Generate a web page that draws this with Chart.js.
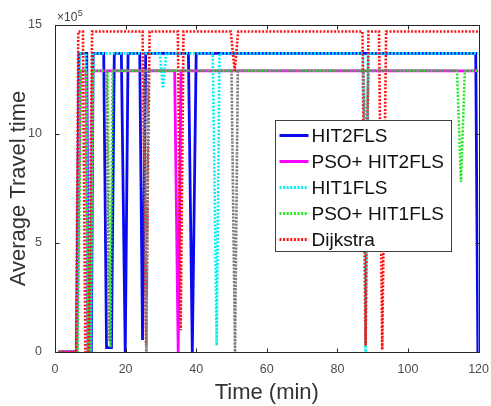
<!DOCTYPE html>
<html><head><meta charset="utf-8">
<script src="https://cdn.jsdelivr.net/npm/chart.js@4.4.0/dist/chart.umd.min.js"></script>
<style>html,body{margin:0;padding:0;background:#fff;}#wrap{width:491px;height:406px;position:relative;}</style>
</head><body><div id="wrap"><canvas id="c" width="491" height="406"></canvas></div>
<script>
// axis ticks (y in units of 10^5)
const xTicks = [0, 20, 40, 60, 80, 100, 120];
const yTicks = [0, 5, 10, 15];
const seriesNames = ['HIT2FLS', 'PSO+ HIT2FLS', 'HIT1FLS', 'PSO+ HIT1FLS', 'Dijkstra'];

// HIT2FLS (blue solid)
const hit2flsTime  = [1, 6.1, 6.8, 9.0, 9.4, 10.3, 10.8, 13.8, 14.6, 16.0, 16.8, 18.8, 19.9, 20.7, 24.0, 24.8, 25.7, 37.8, 38.9, 40.0, 119.2, 119.8];
const hit2flsValue = [0, 0, 13.7, 13.7, 0, 0, 13.7, 13.7, 0.2, 0.2, 13.7, 13.7, 0, 13.7, 13.7, 0.55, 13.7, 13.7, 0, 13.7, 13.7, 0];
// PSO+ HIT2FLS (magenta solid)
const psoHit2Time  = [1, 6.2, 7.2, 8.8, 9.4, 10.0, 10.6, 33.9, 34.9, 35.7, 120];
const psoHit2Value = [0, 0, 12.9, 12.9, 0, 0, 12.9, 12.9, 0, 12.9, 12.9];
// HIT1FLS (cyan dotted)
const hit1flsTime  = [1, 6.2, 7.0, 8.8, 9.4, 10.2, 10.8, 29.7, 30.6, 31.5, 44.7, 45.8, 46.6, 87.3, 88.0, 88.7, 120];
const hit1flsValue = [0, 0, 13.7, 13.7, 0, 0, 13.7, 13.7, 12.1, 13.7, 13.7, 0.3, 13.7, 13.7, 0, 13.7, 13.7];
// PSO+ HIT1FLS (green dotted)
const psoHit1Time  = [1, 6.4, 7.4, 8.8, 9.4, 10.0, 10.7, 14.9, 15.7, 16.3, 113.9, 115.0, 116.1, 120];
const psoHit1Value = [0, 0, 12.9, 12.9, 0, 0, 12.9, 12.9, 0.2, 12.9, 12.9, 7.8, 12.9, 12.9];
// Dijkstra (red dotted)
const dijkstraTime  = [1, 6.0, 6.6, 7.9, 8.6, 9.5, 10.5, 24.8, 25.8, 26.8, 34.8, 35.6, 36.4, 49.8, 50.9, 51.9, 87.1, 88.0, 88.8, 91.8, 92.7, 93.8, 120];
const dijkstraValue = [0, 0, 14.7, 14.7, 0, 0, 14.7, 14.7, 0.3, 14.7, 14.7, 1.0, 14.7, 14.7, 12.9, 14.7, 14.7, 0.3, 14.7, 14.7, 0.1, 14.7, 14.7];
// overlapping PSO traces (appear grey in the figure; not in legend)
const overlapTime  = [14.6, 15.3, 15.8, 16.4, 25.3, 25.9, 26.4, 50.0, 51.0, 51.8, 87.4, 88.1, 88.8, 113.8];
const overlapValue = [12.9, 0.5, null, 12.9, 12.9, 0, 12.9, 12.9, 0, 12.9, 12.9, 8.0, 12.9, 12.9];

const pts = (xs, ys) => xs.map((x, i) => ({x: x, y: ys[i]}));
const DOT = [2, 1.6];

const datasets = [
  {label: seriesNames[0], data: pts(hit2flsTime, hit2flsValue), borderColor: '#0a0af0', borderWidth: 2.8, order: 6, legend: true},
  {label: seriesNames[1], data: pts(psoHit2Time, psoHit2Value), borderColor: '#ff00ff', borderWidth: 2.8, order: 5, legend: true},
  {label: seriesNames[2], data: pts(hit1flsTime, hit1flsValue), borderColor: '#00f0f0', borderWidth: 2.6, borderDash: DOT, order: 4, legend: true},
  {label: seriesNames[3], data: pts(psoHit1Time, psoHit1Value), borderColor: '#22ee22', borderWidth: 2.6, borderDash: DOT, order: 3, legend: true},
  {label: seriesNames[4], data: pts(dijkstraTime, dijkstraValue), borderColor: '#ff1010', borderWidth: 2.6, borderDash: DOT, order: 2, legend: true},
  {label: 'overlap', data: pts(overlapTime, overlapValue), borderColor: '#7d7d7d', borderWidth: 2.6, borderDash: [2.2, 1.2], order: 1, legend: false}
].map(d => Object.assign({pointRadius: 0, tension: 0, fill: false, spanGaps: false}, d));

const FONT = '"Liberation Sans", Arial, Helvetica, sans-serif';

const decor = {
  id: 'decor',
  afterDatasetsDraw(chart) {
    const {ctx, chartArea: a, scales: {x, y}} = chart;
    ctx.save();
    ctx.strokeStyle = '#262626';
    ctx.lineWidth = 1;
    ctx.setLineDash([]);
    const l = Math.round(a.left) + 0.5, r = Math.round(a.right) + 0.5, t = Math.round(a.top) + 0.5, b = Math.round(a.bottom) + 0.5;
    ctx.strokeRect(l, t, r - l, b - t);
    ctx.beginPath();
    const L = 4;
    xTicks.forEach(v => { const px = Math.round(x.getPixelForValue(v)) + 0.5; ctx.moveTo(px, b); ctx.lineTo(px, b - L); ctx.moveTo(px, t); ctx.lineTo(px, t + L); });
    yTicks.forEach(v => { const py = Math.round(y.getPixelForValue(v)) + 0.5; ctx.moveTo(l, py); ctx.lineTo(l + L, py); ctx.moveTo(r, py); ctx.lineTo(r - L, py); });
    ctx.stroke();
    ctx.fillStyle = '#404040';
    ctx.textBaseline = 'alphabetic';
    ctx.textAlign = 'left';
    ctx.font = '12px ' + FONT;
    ctx.fillText('\u00d710', a.left + 2, a.top - 4);
    const w = ctx.measureText('\u00d710').width;
    ctx.font = '9px ' + FONT;
    ctx.fillText('5', a.left + 2 + w + 0.5, a.top - 9);
    const bx = 275.5, by = 120.5, bw = 176, bh = 131;
    ctx.fillStyle = '#ffffff';
    ctx.fillRect(bx, by, bw, bh);
    ctx.strokeStyle = '#404040';
    ctx.strokeRect(bx, by, bw, bh);
    const items = chart.data.datasets.filter(d => d.legend);
    ctx.font = '19px ' + FONT;
    ctx.textBaseline = 'middle';
    items.forEach((d, i) => {
      const yy = by + 15 + i * 26;
      ctx.beginPath();
      ctx.strokeStyle = d.borderColor;
      ctx.lineWidth = 3;
      ctx.setLineDash(d.borderDash || []);
      ctx.moveTo(bx + 4, yy);
      ctx.lineTo(bx + 33, yy);
      ctx.stroke();
      ctx.setLineDash([]);
      ctx.fillStyle = '#111';
      ctx.fillText(d.label, bx + 36, yy + 1);
    });
    ctx.restore();
  }
};

new Chart(document.getElementById('c'), {
  type: 'line',
  data: {datasets: datasets},
  options: {
    responsive: false,
    animation: false,
    devicePixelRatio: 1,
    layout: {padding: {top: 25, right: 11, left: 0, bottom: 0}},
    plugins: {legend: {display: false}, tooltip: {enabled: false}},
    scales: {
      x: {
        type: 'linear', min: 0, max: 120,
        afterFit: s => { s.height = 54; },
        afterBuildTicks: s => { s.ticks = xTicks.map(v => ({value: v})); },
        grid: {display: false}, border: {display: false},
        ticks: {color: '#4d4d4d', font: {size: 12.5, family: FONT}, padding: 2, maxRotation: 0, autoSkip: false},
        title: {display: true, text: 'Time (min)', color: '#333', font: {size: 22, family: FONT}, padding: {top: 0, bottom: 0}}
      },
      y: {
        type: 'linear', min: 0, max: 15,
        afterFit: s => { s.width = 55; },
        afterBuildTicks: s => { s.ticks = yTicks.map(v => ({value: v})); },
        grid: {display: false}, border: {display: false},
        ticks: {color: '#4d4d4d', font: {size: 12.5, family: FONT}, padding: 5, autoSkip: false},
        title: {display: true, text: 'Average Travel time', color: '#333', font: {size: 22, family: FONT}, padding: {top: 6, bottom: 0}}
      }
    }
  },
  plugins: [decor]
});
</script></body></html>
